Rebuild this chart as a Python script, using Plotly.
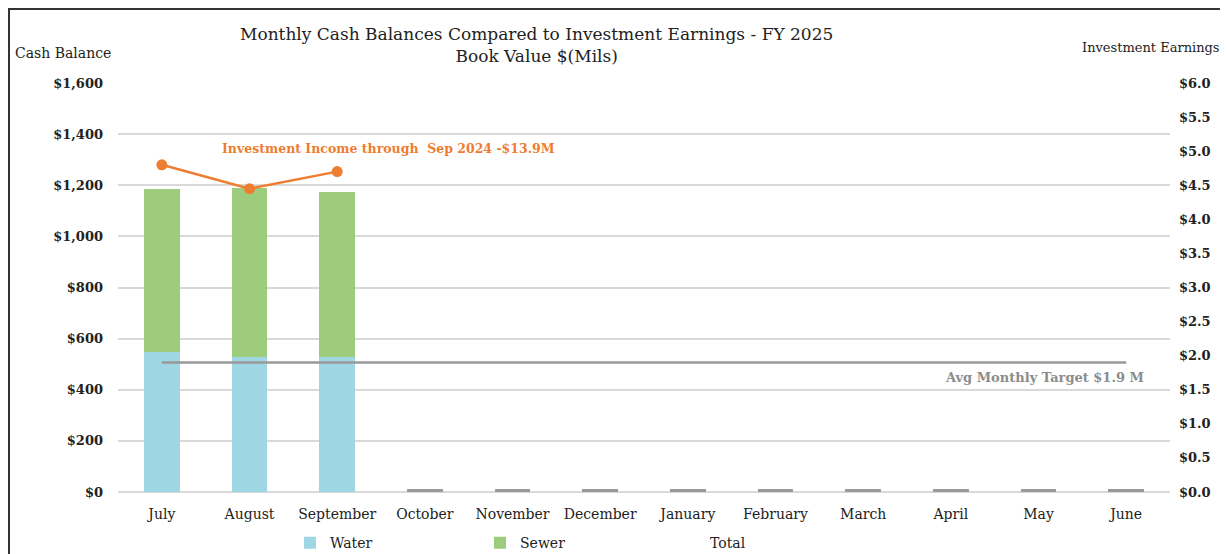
import plotly.graph_objects as go

months = ["July", "August", "September", "October", "November", "December",
          "January", "February", "March", "April", "May", "June"]
water = [548, 528, 528, None, None, None, None, None, None, None, None, None]
sewer = [637, 660, 646, None, None, None, None, None, None, None, None, None]
placeholder = [None, None, None, 12, 12, 12, 12, 12, 12, 12, 12, 12]
earnings = [4.8, 4.45, 4.7]
target = [1.9] * 12

FONT = "DejaVu Serif"
fig = go.Figure()
fig.add_trace(go.Bar(x=months, y=water, name="Water", marker_color="#9fd6e4",
                     marker_line_width=0))
fig.add_trace(go.Bar(x=months, y=sewer, name="Sewer", marker_color="#9ccc7c",
                     marker_line_width=0))
fig.add_trace(go.Bar(x=months, y=placeholder, name="Placeholder", marker_color="#9a9a9a",
                     marker_line_width=0, showlegend=False))
totals = [w + s if (w is not None and s is not None) else None for w, s in zip(water, sewer)]
fig.add_trace(go.Scatter(x=months, y=totals, name="Total", mode="lines",
                         line=dict(color="rgba(0,0,0,0)", width=0), hoverinfo="skip"))
fig.add_trace(go.Scatter(x=months, y=target, name="Avg Monthly Target", yaxis="y2",
                         mode="lines", line=dict(color="#999999", width=2.5), showlegend=False))
fig.add_trace(go.Scatter(x=months[:3], y=earnings, name="Investment Earnings", yaxis="y2",
                         mode="lines+markers", line=dict(color="#ed7d31", width=2.5),
                         marker=dict(size=11, color="#ed7d31"), showlegend=False))

# page body has an 8px default margin, so the figure is sized/offset to compensate
fig.update_layout(
    width=1220, height=546,
    barmode="stack", bargap=0.59,
    plot_bgcolor="white", paper_bgcolor="white",
    margin=dict(l=110, r=58, t=75, b=62, autoexpand=False),
    font=dict(family=FONT, color="#222222", size=13),
    xaxis=dict(showgrid=False, showline=False, ticks="", automargin=False,
               range=[-0.5, len(months) - 0.5],
               ticklabelstandoff=12, tickfont=dict(size=14, color="#222")),
    yaxis=dict(range=[0, 1600], dtick=200, tickformat="$,.0f", showgrid=True, automargin=False,
               gridcolor="#d9d9d9", gridwidth=1.5, zeroline=True, zerolinecolor="#d9d9d9",
               zerolinewidth=1.5, ticklabelstandoff=14,
               tickfont=dict(size=13, color="#222", weight="bold")),
    yaxis2=dict(range=[0, 6], dtick=0.5, tickformat="$.1f", overlaying="y", side="right",
                showgrid=False, zeroline=False, ticklabelstandoff=8, automargin=False,
                tickfont=dict(size=13, color="#222", weight="bold")),
    legend=dict(orientation="h", x=0.1635, xanchor="left", y=-0.125, yanchor="middle",
                entrywidth=145, entrywidthmode="pixels", font=dict(size=14, color="#222"),
                traceorder="normal"),
    showlegend=True,
)

fig.add_annotation(xref="paper", yref="paper", x=0.398, y=1.094, yanchor="middle",
                   text="Monthly Cash Balances Compared to Investment Earnings - FY 2025<br>Book Value $(Mils)",
                   showarrow=False, font=dict(size=17, color="#222"), align="center")
fig.add_annotation(xref="paper", yref="paper", x=-0.1, xanchor="left", y=1.073, yanchor="middle",
                   text="Cash Balance", showarrow=False, font=dict(size=14, color="#222"))
fig.add_annotation(xref="paper", yref="paper", x=1.049, xanchor="right", y=1.086, yanchor="middle",
                   text="Investment Earnings", showarrow=False, font=dict(size=13, color="#222"))
fig.add_annotation(xref="paper", yref="paper", x=0.097, xanchor="left", y=0.841, yanchor="middle",
                   text="Investment Income through  Sep 2024 -$13.9M", showarrow=False,
                   font=dict(size=12.5, color="#ed7d31", weight="bold"))
fig.add_annotation(xref="paper", yref="paper", x=0.977, xanchor="right", y=0.279, yanchor="middle",
                   text="Avg Monthly Target $1.9 M", showarrow=False,
                   font=dict(size=13, color="#8c8c8c", weight="bold"))
fig.add_shape(type="rect", xref="paper", yref="paper", x0=-0.1036, x1=1.0532, y0=-0.3, y1=1.181,
              line=dict(color="#333333", width=2), fillcolor="rgba(0,0,0,0)", layer="above")

fig.write_html("out.html")
